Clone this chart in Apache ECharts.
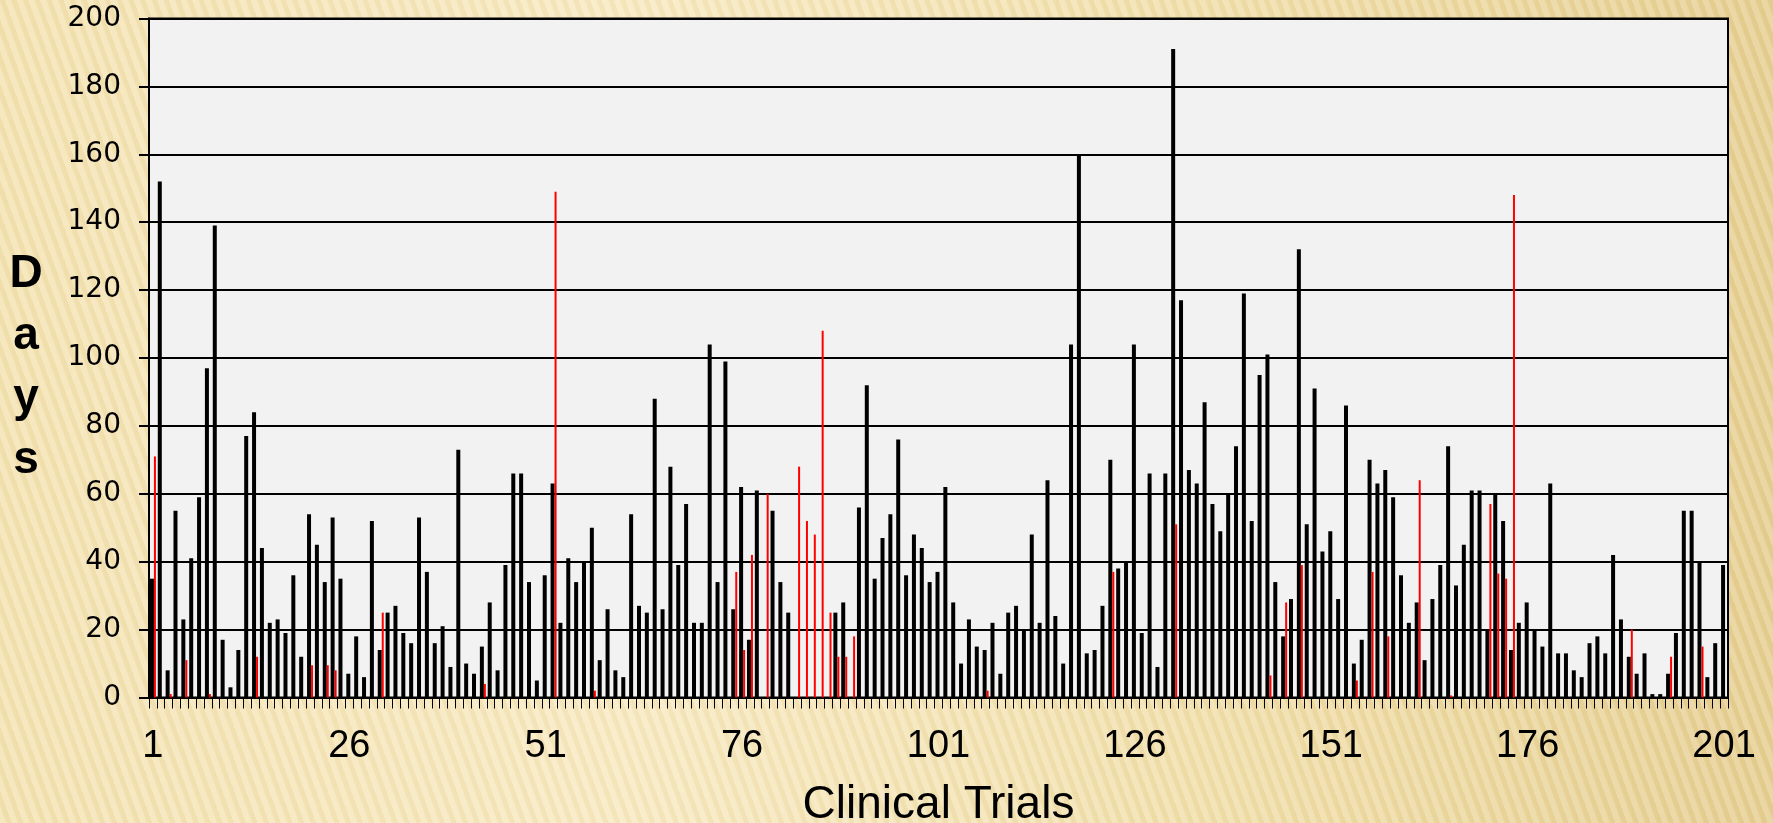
<!DOCTYPE html>
<html>
<head>
<meta charset="utf-8">
<script src="https://cdn.jsdelivr.net/npm/echarts@6/dist/echarts.min.js"></script>
<style>
html,body{margin:0;padding:0;width:1773px;height:823px;overflow:hidden;}
body{
  background:
    repeating-linear-gradient(70deg, rgba(255,255,255,0.16) 0px, rgba(255,255,255,0.16) 5px, rgba(160,120,40,0.05) 7px, rgba(160,120,40,0.05) 11px),
    linear-gradient(90deg, #f4e3b2 0%, #f8eac2 35%, #f1dfaa 70%, #e6cf92 100%);
}
#chart{width:1773px;height:823px;}
</style>
</head>
<body>
<div id="chart"></div>
<script>
// Days per clinical trial (black series)
var blackDays = [
 35,152,8,55,23,41,59,97,139,17,
 3,14,77,84,44,22,23,19,36,12,
 54,45,34,53,35,7,18,6,52,14,
 25,27,19,16,53,37,16,21,9,73,
 10,7,15,28,8,39,66,66,34,5,
 36,63,22,41,34,40,50,11,26,8,
 6,54,27,25,88,26,68,39,57,22,
 22,104,34,99,26,62,17,61,0,55,
 34,25,0,0,0,0,0,25,28,0,
 56,92,35,47,54,76,36,48,44,34,
 37,62,28,10,23,15,14,22,7,25,
 27,20,48,22,64,24,10,104,160,13,
 14,27,70,38,40,104,19,66,9,66,
 191,117,67,63,87,57,49,60,74,119,
 52,95,101,34,18,29,132,51,91,43,
 49,29,86,10,17,70,63,67,59,36,
 22,28,11,29,39,74,33,45,61,61,
 20,60,52,14,22,28,20,15,63,13,
 13,8,6,16,18,13,42,23,12,7,
 13,1,1,7,19,55,55,40,6,16,
 39
];
// Days per clinical trial (red series)
var redDays = [
 71,0,1,0,11,0,0,1,0,0,
 0,0,0,12,0,0,0,0,0,0,
 9.5,0,9.5,8,0,0,0,0,0,25,
 0,0,0,0,0,0,0,0,0,0,
 0,0,4,0,0,0,0,0,0,0,
 0,149,0,0,0,0,2,0,0,0,
 0,0,0,0,0,0,0,0,0,0,
 0,0,0,0,37,14,42,0,60,0,
 0,0,68,52,48,108,25,12,12,18,
 0,0,0,0,0,0,0,0,0,0,
 0,0,0,0,0,0,2,0,0,0,
 0,0,0,0,0,0,0,0,0,0,
 0,0,37,0,0,0,0,0,0,0,
 51,0,0,0,0,0,0,0,0,0,
 0,0,6.5,0,28,0,39,0,0,0,
 0,0,0,5,0,37,0,18,0,0,
 0,64,0,0,0,0.6,0,0,0,0,
 57,36.5,35,148,0,0,0,0,0,0,
 0,0,0,0,0,0,0,0,20,0,
 0,0,0,12,0,0,0,15,0,0,
 0
];
var trialLabels = [];
for (var i = 1; i <= blackDays.length; i++) trialLabels.push(String(i));
var yTicks = {min: 0, max: 200, step: 20};

var chart = echarts.init(document.getElementById('chart'), null, {renderer: 'canvas'});
chart.setOption({
  backgroundColor: 'transparent',
  animation: false,
  grid: {
    left: 149, right: 45, top: 18.5, bottom: 125.5,
    show: true, backgroundColor: '#f2f2f2', borderColor: '#000', borderWidth: 2
  },
  xAxis: {
    type: 'category',
    data: trialLabels,
    boundaryGap: true,
    axisLine: {show: true, lineStyle: {color: '#000', width: 2}},
    axisTick: {show: true, interval: 0, length: 11, lineStyle: {color: '#000', width: 1}},
    axisLabel: {interval: 24, color: '#000', fontFamily: 'Liberation Sans', fontSize: 38, margin: 30},
    splitLine: {show: false}
  },
  yAxis: {
    type: 'value',
    min: yTicks.min, max: yTicks.max, interval: yTicks.step,
    axisLine: {show: true, lineStyle: {color: '#000', width: 2}},
    axisTick: {show: true, length: 10, lineStyle: {color: '#000', width: 2}},
    axisLabel: {color: '#000', fontFamily: 'DejaVu Sans', fontSize: 28, margin: 28},
    splitLine: {show: true, lineStyle: {color: '#000', width: 2}}
  },
  series: [
    {type: 'bar', data: blackDays, barWidth: 4, barGap: '0%', itemStyle: {color: '#000'}},
    {type: 'bar', data: redDays, barWidth: 2, barGap: '0%', itemStyle: {color: '#ff0000'}}
  ],
  graphic: [
    {type: 'text', x: 26, y: 274, style: {text: 'D', fill: '#000', font: 'bold 46px "Liberation Sans"', textAlign: 'center', textVerticalAlign: 'middle'}},
    {type: 'text', x: 26, y: 336, style: {text: 'a', fill: '#000', font: 'bold 46px "Liberation Sans"', textAlign: 'center', textVerticalAlign: 'middle'}},
    {type: 'text', x: 26, y: 398, style: {text: 'y', fill: '#000', font: 'bold 46px "Liberation Sans"', textAlign: 'center', textVerticalAlign: 'middle'}},
    {type: 'text', x: 26, y: 460, style: {text: 's', fill: '#000', font: 'bold 46px "Liberation Sans"', textAlign: 'center', textVerticalAlign: 'middle'}},
    {type: 'text', x: 938.5, y: 805, style: {text: 'Clinical Trials', fill: '#000', font: '46px "Liberation Sans"', textAlign: 'center', textVerticalAlign: 'middle'}}
  ]
});
</script>
</body>
</html>
